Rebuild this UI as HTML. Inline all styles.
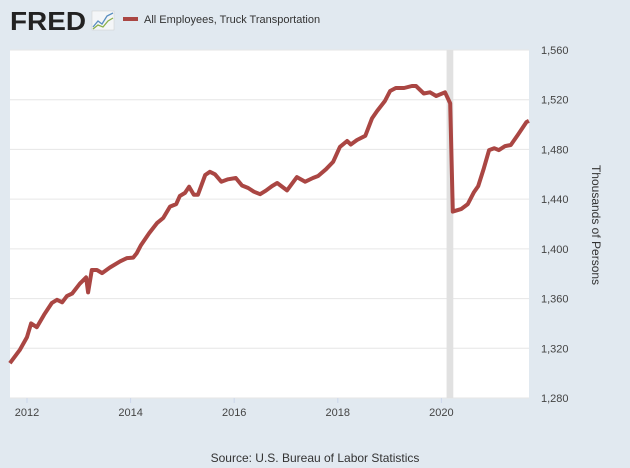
<!DOCTYPE html>
<html><head><meta charset="utf-8"><style>
body{margin:0;background:#e1e9f0;font-family:"Liberation Sans","DejaVu Sans",sans-serif;}
svg{display:block}
</style></head><body>
<svg width="630" height="468">
<rect x="0" y="0" width="630" height="468" fill="#e1e9f0"/>
<g>
<text x="10" y="30" font-size="26" font-weight="bold" fill="#222" font-family="Liberation Sans, sans-serif" textLength="76" lengthAdjust="spacingAndGlyphs">FRED</text>
<rect x="92" y="11" width="22" height="19" fill="#f4f6f8" stroke="#ccc" stroke-width="0.5"/>
<polyline points="93,27 98,21 102,24 107,16 113,13" fill="none" stroke="#5a8fc0" stroke-width="1.3"/>
<polyline points="93,29 98,25 103,27 108,21 113,18" fill="none" stroke="#8ab04a" stroke-width="1.3"/>
</g>
<rect x="123" y="17" width="15" height="4" fill="#aa4643"/>
<text x="144" y="23" font-size="11" fill="#333">All Employees, Truck Transportation</text>
<rect x="10" y="50" width="519" height="348" fill="#fff"/>
<g id="grid"></g>
<rect id="rec" fill="#e1e1e1"/>
<g id="ticks"></g>
<path id="line" fill="none" stroke="#aa4643" stroke-width="4" stroke-linejoin="round"/>
<text transform="translate(592,225) rotate(90)" text-anchor="middle" font-size="12" fill="#333">Thousands of Persons</text>
<text x="315" y="462" text-anchor="middle" font-size="12" fill="#333">Source: U.S. Bureau of Labor Statistics</text>
</svg>
<script>
const dates=[2011.67,2011.86,2012.0,2012.08,2012.19,2012.33,2012.48,2012.58,2012.68,2012.77,2012.87,2013.02,2013.14,2013.18,2013.25,2013.35,2013.45,2013.60,2013.80,2013.93,2014.05,2014.12,2014.20,2014.36,2014.51,2014.63,2014.76,2014.88,2014.95,2015.05,2015.13,2015.22,2015.30,2015.44,2015.53,2015.63,2015.75,2015.88,2016.03,2016.15,2016.27,2016.38,2016.50,2016.61,2016.73,2016.83,2017.02,2017.21,2017.37,2017.52,2017.62,2017.77,2017.91,2018.04,2018.18,2018.25,2018.37,2018.53,2018.66,2018.76,2018.91,2019.01,2019.12,2019.28,2019.43,2019.51,2019.66,2019.78,2019.90,2020.07,2020.17,2020.22,2020.38,2020.51,2020.63,2020.71,2020.82,2020.92,2021.02,2021.11,2021.23,2021.34,2021.48,2021.64,2021.69];
const values=[1308,1318.5,1329,1340,1337,1347,1356.5,1359,1357,1362,1364,1372,1377,1365,1383,1383,1380.5,1385,1390,1392.6,1393,1396.6,1403,1412.7,1420.7,1424.8,1434,1436,1442.5,1445,1450,1443.5,1443.5,1459.4,1462,1460,1454,1456,1457,1451,1449,1446,1444,1446.8,1450.5,1453,1447,1457.7,1454,1457,1458.6,1464,1470,1482,1486.8,1484,1487.6,1491,1505,1511,1519,1527,1529.4,1529.4,1531,1531,1525,1526,1523,1526,1517,1430,1432,1436,1445.7,1450.5,1465,1479.5,1481,1479.5,1482.7,1483.6,1492,1502,1503];
const yTicks=[1280,1320,1360,1400,1440,1480,1520,1560];
const yTickLabels=["1,280","1,320","1,360","1,400","1,440","1,480","1,520","1,560"];
const xTicks=[2012,2014,2016,2018,2020];
const recession=[2020.10,2020.23];
const NS="http://www.w3.org/2000/svg";
const xs=d=>27+(d-2012)*51.8;
const ys=v=>50+(1560-v)*348/280;
const grid=document.getElementById('grid'),ticks=document.getElementById('ticks');
yTicks.forEach((t,i)=>{
 const l=document.createElementNS(NS,'line');
 l.setAttribute('x1',10);l.setAttribute('x2',529);l.setAttribute('y1',ys(t));l.setAttribute('y2',ys(t));
 l.setAttribute('stroke','#e6e6e6');l.setAttribute('stroke-width','1');
 
 
 grid.appendChild(l);
 const tx=document.createElementNS(NS,'text');
 tx.setAttribute('x',541);tx.setAttribute('y',ys(t)+4);tx.setAttribute('font-size','11');tx.setAttribute('fill','#444');
 tx.textContent=yTickLabels[i];
 
 
 ticks.appendChild(tx);
});
xTicks.forEach(t=>{
 const tx=document.createElementNS(NS,'text');
 tx.setAttribute('x',xs(t));tx.setAttribute('y',416);tx.setAttribute('font-size','11');tx.setAttribute('fill','#444');tx.setAttribute('text-anchor','middle');
 tx.textContent=t;
 
 
 ticks.appendChild(tx);
 const tk=document.createElementNS(NS,'line');
 tk.setAttribute('x1',xs(t));tk.setAttribute('x2',xs(t));tk.setAttribute('y1',398);tk.setAttribute('y2',403);tk.setAttribute('stroke','#ccd6eb');
 
 
 ticks.appendChild(tk);
});
const rec=document.getElementById('rec');
rec.setAttribute('x',xs(recession[0]));rec.setAttribute('width',xs(recession[1])-xs(recession[0]));rec.setAttribute('y',50);rec.setAttribute('height',348);
document.getElementById('line').setAttribute('d',dates.map((d,i)=>(i?'L':'M')+xs(d).toFixed(1)+','+ys(values[i]).toFixed(1)).join(''));
</script>
</body></html>
